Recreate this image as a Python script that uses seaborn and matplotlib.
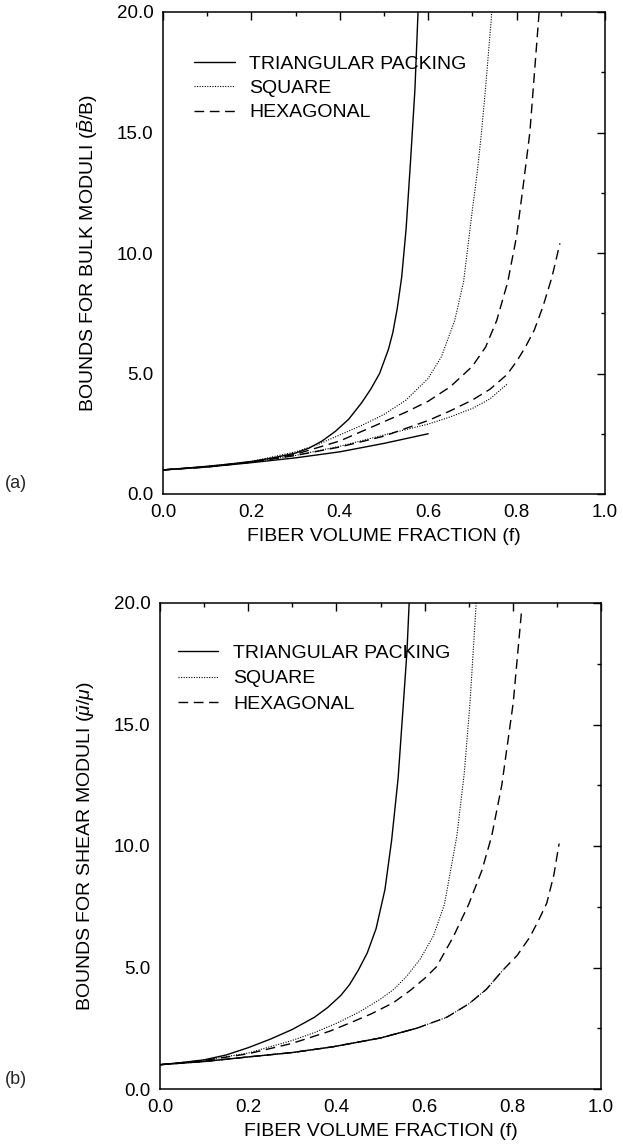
import numpy as np
import pandas as pd
import matplotlib
matplotlib.use("Agg")
import matplotlib.pyplot as plt
import seaborn as sns
from matplotlib.ticker import MultipleLocator, FormatStrFormatter

sns.set_theme(style="white")
plt.rcParams['font.family'] = ['Liberation Sans', 'DejaVu Sans']
plt.rcParams['mathtext.fontset'] = 'custom'
plt.rcParams['mathtext.rm'] = 'Liberation Sans'
plt.rcParams['mathtext.it'] = 'Liberation Sans:italic'

# ---------------- data: panel (a) bulk moduli ----------------
a_tri_up_f = [0.0, 0.05, 0.1, 0.15, 0.2, 0.25, 0.3, 0.33, 0.36, 0.39, 0.42, 0.45, 0.47, 0.49,
              0.51, 0.52, 0.53, 0.54, 0.55, 0.56, 0.57, 0.577]
a_tri_up_v = [1.0, 1.07, 1.15, 1.24, 1.35, 1.5, 1.7, 1.9, 2.2, 2.6, 3.1, 3.8, 4.35, 5.0,
              6.0, 6.7, 7.7, 9.0, 11.0, 13.8, 16.8, 20.0]
a_tri_lo_f = [0.0, 0.1, 0.2, 0.3, 0.4, 0.5, 0.6]
a_tri_lo_v = [1.0, 1.12, 1.3, 1.5, 1.75, 2.1, 2.5]
a_sq_up_f = [0.0, 0.1, 0.2, 0.3, 0.35, 0.4, 0.45, 0.5, 0.55, 0.6, 0.63, 0.66, 0.68, 0.7,
             0.71, 0.72, 0.73, 0.744]
a_sq_up_v = [1.0, 1.15, 1.35, 1.75, 2.05, 2.45, 2.85, 3.3, 3.9, 4.8, 5.7, 7.2, 8.8, 11.8,
             13.2, 14.9, 16.9, 20.0]
a_sq_lo_f = [0.0, 0.1, 0.2, 0.3, 0.4, 0.5, 0.6, 0.65, 0.7, 0.74, 0.778]
a_sq_lo_v = [1.0, 1.12, 1.32, 1.6, 1.98, 2.45, 2.9, 3.2, 3.55, 3.95, 4.55]
a_hx_up_f = [0.0, 0.1, 0.2, 0.3, 0.4, 0.45, 0.5, 0.55, 0.6, 0.65, 0.7, 0.73, 0.755, 0.78,
             0.8, 0.815, 0.83, 0.851]
a_hx_up_v = [1.0, 1.13, 1.33, 1.65, 2.2, 2.6, 3.0, 3.4, 3.85, 4.45, 5.3, 6.1, 7.2, 8.8,
             10.7, 12.8, 15.0, 20.0]
a_hx_lo_f = [0.0, 0.1, 0.2, 0.3, 0.4, 0.5, 0.6, 0.65, 0.7, 0.74, 0.778, 0.8, 0.82, 0.84,
             0.86, 0.88, 0.898]
a_hx_lo_v = [1.0, 1.12, 1.32, 1.6, 1.95, 2.4, 3.05, 3.45, 3.9, 4.35, 4.95, 5.5, 6.1, 6.8,
             7.8, 9.0, 10.4]

# ---------------- data: panel (b) shear moduli ----------------
b_tri_up_f = [0.0, 0.05, 0.1, 0.15, 0.2, 0.25, 0.3, 0.35, 0.38, 0.41, 0.43, 0.45, 0.47,
              0.49, 0.51, 0.525, 0.54, 0.552, 0.56, 0.565]
b_tri_up_v = [1.0, 1.09, 1.2, 1.4, 1.7, 2.05, 2.45, 2.95, 3.35, 3.85, 4.3, 4.9, 5.6,
              6.6, 8.2, 10.2, 12.8, 15.9, 18.0, 20.0]
b_sq_up_f = [0.0, 0.1, 0.2, 0.3, 0.35, 0.4, 0.45, 0.5, 0.53, 0.56, 0.59, 0.62, 0.645,
             0.673, 0.69, 0.703, 0.717]
b_sq_up_v = [1.0, 1.18, 1.48, 2.0, 2.32, 2.7, 3.15, 3.7, 4.1, 4.65, 5.35, 6.3, 7.6,
             10.4, 13.0, 15.9, 20.0]
b_hx_up_f = [0.0, 0.1, 0.2, 0.3, 0.385, 0.431, 0.48, 0.529, 0.567, 0.6, 0.627, 0.665,
             0.7, 0.73, 0.752, 0.775, 0.801, 0.82]
b_hx_up_v = [1.0, 1.17, 1.45, 1.88, 2.38, 2.72, 3.1, 3.55, 4.05, 4.55, 5.03, 6.26,
             7.6, 9.0, 10.4, 12.5, 15.9, 19.7]
b_lo_f = [0.0, 0.1, 0.2, 0.3, 0.393, 0.5, 0.582, 0.65, 0.7, 0.74, 0.778, 0.81, 0.839,
          0.86, 0.877, 0.893, 0.905]
b_lo_v = [1.0, 1.13, 1.32, 1.5, 1.74, 2.1, 2.5, 2.95, 3.5, 4.1, 4.9, 5.5, 6.26,
          7.0, 7.65, 8.8, 10.1]
b_tri_lo_end = 0.6
b_sq_lo_end = 0.78

labels = ["TRIANGULAR PACKING", "SQUARE", "HEXAGONAL"]
x_ticks = [0.0, 0.2, 0.4, 0.6, 0.8, 1.0]
y_ticks = [0.0, 5.0, 10.0, 15.0, 20.0]

styles = {
    "TRIANGULAR PACKING": dict(linestyle="-", lw=1.0),
    "SQUARE": dict(linestyle=(0, (1, 1.3)), lw=0.8),
    "HEXAGONAL": dict(linestyle=(0, (7, 4)), lw=1.0),
}

fig = plt.figure(figsize=(6.23, 11.46), dpi=100)
ax_a = fig.add_axes([163/623, 1 - 494/1146, 442/623, 482/1146])
ax_b = fig.add_axes([160/623, 1 - 1089/1146, 441/623, 486/1146])


def draw(ax, f, v, name, label=True):
    sns.lineplot(x=f, y=v, ax=ax, color="black", sort=False,
                 label=name if label else None, **styles[name])


draw(ax_a, a_tri_up_f, a_tri_up_v, labels[0])
draw(ax_a, a_tri_lo_f, a_tri_lo_v, labels[0], False)
draw(ax_a, a_sq_up_f, a_sq_up_v, labels[1])
draw(ax_a, a_sq_lo_f, a_sq_lo_v, labels[1], False)
draw(ax_a, a_hx_up_f, a_hx_up_v, labels[2])
draw(ax_a, a_hx_lo_f, a_hx_lo_v, labels[2], False)

bf = np.array(b_lo_f)
bv = np.array(b_lo_v)
m_t = bf <= b_tri_lo_end + 1e-9
m_s = bf <= b_sq_lo_end + 1e-9
draw(ax_b, b_tri_up_f, b_tri_up_v, labels[0])
draw(ax_b, list(bf[m_t]), list(bv[m_t]), labels[0], False)
draw(ax_b, b_sq_up_f, b_sq_up_v, labels[1])
draw(ax_b, list(bf[m_s]), list(bv[m_s]), labels[1], False)
draw(ax_b, b_hx_up_f, b_hx_up_v, labels[2])
draw(ax_b, b_lo_f, b_lo_v, labels[2], False)

fs = 14
tfs = 13.5
for ax, ylab, leg_x, leg_y, lsp in [
        (ax_a, r"BOUNDS FOR BULK MODULI ($\bar{B}$/B)", 0.07, 0.91, 0.34),
        (ax_b, r"BOUNDS FOR SHEAR MODULI ($\bar{\mu}$/$\mu$)", 0.04, 0.915, 0.4)]:
    ax.set_xlim(0, 1.0)
    ax.set_ylim(0, 20.0)
    ax.set_xticks(x_ticks)
    ax.set_yticks(y_ticks)
    ax.xaxis.set_minor_locator(MultipleLocator(0.1))
    ax.yaxis.set_minor_locator(MultipleLocator(2.5))
    ax.xaxis.set_major_formatter(FormatStrFormatter("%.1f"))
    ax.yaxis.set_major_formatter(FormatStrFormatter("%.1f"))
    ax.tick_params(which="both", direction="in", top=True, right=True,
                   color="black", width=1.0, labelsize=tfs, labelcolor="black")
    ax.tick_params(which="major", length=6, pad=7)
    ax.tick_params(which="minor", length=3)
    for s in ax.spines.values():
        s.set_color("black")
        s.set_linewidth(1.1)
    ax.set_xlabel("FIBER VOLUME FRACTION (f)", fontsize=fs, color="black", labelpad=5)
    ax.set_ylabel(ylab, fontsize=fs, color="black", labelpad=12)
    leg = ax.legend(loc="upper left", bbox_to_anchor=(leg_x, leg_y), frameon=False,
                    fontsize=fs, handlelength=2.1, handletextpad=0.75,
                    labelspacing=lsp, borderpad=0, borderaxespad=0)
    for t in leg.get_texts():
        t.set_color("black")
    ax.grid(False)

fig.text(5/623, 1 - 483/1146, "(a)", fontsize=13, va="center", ha="left")
fig.text(5/623, 1 - 1080/1146, "(b)", fontsize=13, va="center", ha="left")

fig.savefig("out.png", dpi=100, facecolor="white")
